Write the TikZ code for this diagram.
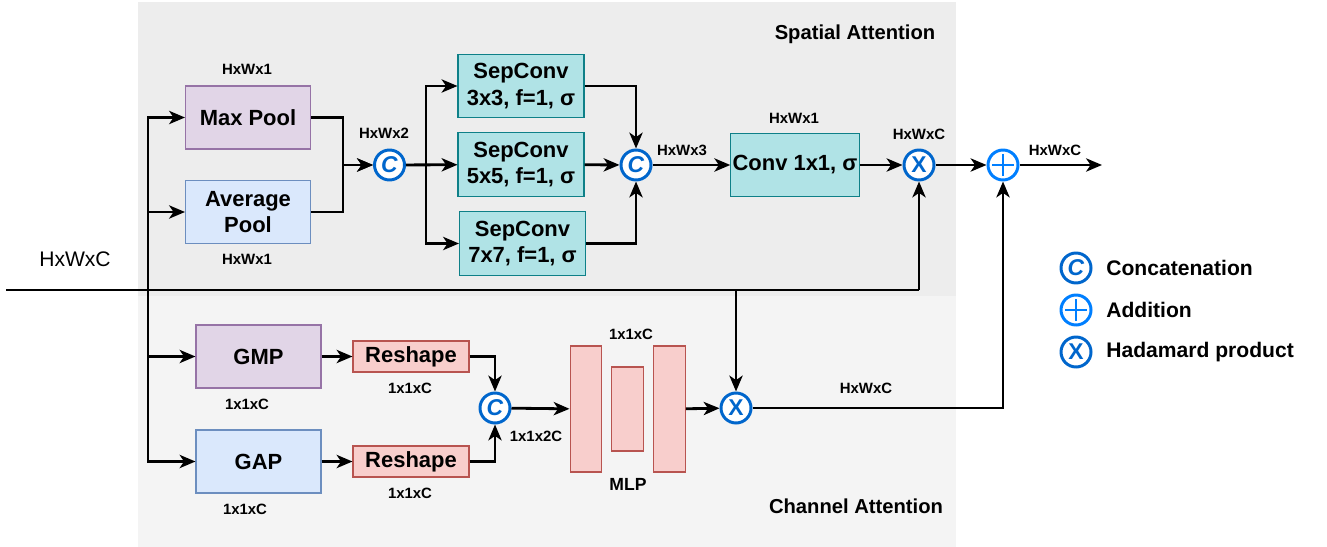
\documentclass[tikz,border=0pt]{standalone}
\usepackage{fontspec}
\setmainfont{Liberation Sans}
\usetikzlibrary{arrows.meta,positioning}
\definecolor{maxFill}{HTML}{E1D5E7}
\definecolor{maxLine}{HTML}{9673A6}
\definecolor{avgFill}{HTML}{DAE8FC}
\definecolor{avgLine}{HTML}{6C8EBF}
\definecolor{sepFill}{HTML}{B0E3E6}
\definecolor{sepLine}{HTML}{0E8088}
\definecolor{resFill}{HTML}{F8CECC}
\definecolor{resLine}{HTML}{B85450}
\definecolor{opBlue}{HTML}{0066CC}
\definecolor{addBlue}{HTML}{007FFF}
\definecolor{spatialBg}{HTML}{EDEDED}
\definecolor{channelBg}{HTML}{F4F4F4}

\begin{document}
\begin{tikzpicture}[x=0.02cm,y=-0.02cm,
    >={Stealth[length=9pt,width=7.5pt,inset=2.5pt]},
    flow/.style={->,line width=1.6pt},
    blk/.style={draw,line width=0.6pt,align=center,inner sep=1pt,
      font=\bfseries\fontsize{12.5}{15}\selectfont},
    pool/.style={blk,minimum width=2.5cm,minimum height=1.26cm},
    sepbox/.style={blk,draw=sepLine,fill=sepFill,minimum width=2.52cm,
      minimum height=1.27cm},
    reshape/.style={blk,draw=resLine,fill=resFill,minimum width=2.32cm,
      minimum height=0.62cm},
    mlpbar/.style={draw=resLine,fill=resFill,line width=0.6pt,
      minimum width=0.63cm,inner sep=0pt},
    op/.style={circle,draw=opBlue,fill=white,line width=1.7pt,
      minimum size=0.6cm,inner sep=0pt,text=opBlue,
      font=\bfseries\fontsize{13}{13}\selectfont},
    addop/.style={op,draw=addBlue,path picture={
      \draw[addBlue,line width=1.5pt]
        (path picture bounding box.center) +(-11,0) -- +(11,0)
        (path picture bounding box.center) +(0,-11) -- +(0,11);}},
    dim/.style={inner sep=0pt,font=\bfseries\fontsize{8.5}{10}\selectfont},
    areatitle/.style={inner sep=0pt,font=\bfseries\fontsize{11.5}{13}\selectfont},
    legendtext/.style={inner sep=0pt,anchor=west,
      font=\bfseries\fontsize{12}{14}\selectfont}]

  \useasboundingbox (0,0) rectangle (1327,547);
  % attention branches
  \fill[spatialBg] (138,2) rectangle (956,296);
  \fill[channelBg] (138,296) rectangle (956,547);
  \node[areatitle] (satitle) at (855,34) {Spatial Attention};
  \node[areatitle] (catitle) at (856,506) {Channel Attention};

  % spatial branch
  \node[pool,draw=maxLine,fill=maxFill] (mp) at (248,117.5) {Max Pool};
  \node[pool,draw=avgLine,fill=avgFill] (ap) at (248,212) {Average\\Pool};
  \node[op] (cat1) at (389.5,165) {\textit{C}};
  \node[sepbox] (sc3) at (521,86) {SepConv\\3x3, f=1, σ};
  \node[sepbox] (sc5) at (521,164.5) {SepConv\\5x5, f=1, σ};
  \node[sepbox] (sc7) at (522.5,243.5) {SepConv\\7x7, f=1, σ};
  \node[op] (cat2) at (636,165) {\textit{C}};
  \node[sepbox] (conv) at (795,165) {Conv 1x1, σ};
  \node[op] (had1) at (919,165) {X};
  \node[addop] (add) at (1003,165) {};
  \coordinate (out) at (1102,165);

  % channel branch
  \node[pool,draw=maxLine,fill=maxFill] (gmp) at (258.5,356.5) {GMP};
  \node[pool,draw=avgLine,fill=avgFill] (gap) at (258.5,461.5) {GAP};
  \node[reshape] (rs1) at (411,356.5) {Reshape};
  \node[reshape] (rs2) at (411,461.5) {Reshape};
  \node[op] (cat3) at (495,408) {\textit{C}};
  \node[mlpbar,minimum height=2.52cm] (mlp1) at (585.8,409) {};
  \node[mlpbar,minimum height=1.68cm] (mlp2) at (627.3,409) {};
  \node[mlpbar,minimum height=2.52cm] (mlp3) at (669.5,409) {};
  \node[op] (had2) at (736,408) {X};

  % input feature map
  \coordinate (in) at (6,290);
  \coordinate (split) at (148,290);
  \coordinate (tap) at (736,290);
  \coordinate (turn) at (919,290);

  \draw[flow,-] (in) -- (turn);
  \draw[flow] (turn) -- (had1);
  \draw[flow] (split) |- (mp);
  \draw[flow] (split) |- (ap);
  \draw[flow] (split) |- (gmp);
  \draw[flow] (split) |- (gap);
  \draw[flow] (tap) -- (had2);

  \draw[flow] (mp.east) -- ++(32,0) |- (cat1);
  \draw[flow] (ap.east) -- ++(32,0) |- (cat1);
  \draw[flow] (cat1.east) -- ++(20,0) |- (sc3);
  \draw[flow] (cat1) -- (sc5);
  \draw[flow] (cat1.east) -- ++(20,0) |- (sc7);
  \draw[flow] (sc3) -| (cat2);
  \draw[flow] (sc5) -- (cat2);
  \draw[flow] (sc7) -| (cat2);
  \draw[flow] (cat2) -- (conv);
  \draw[flow] (conv) -- (had1);
  \draw[flow] (had1) -- (add);
  \draw[flow] (add) -- (out);

  \draw[flow] (gmp) -- (rs1);
  \draw[flow] (gap) -- (rs2);
  \draw[flow] (rs1) -| (cat3);
  \draw[flow] (rs2) -| (cat3);
  \draw[flow] (cat3) -- (mlp1);
  \draw[flow] (mlp3) -- (had2);
  \draw[flow] (had2) -| (add);

  % tensor shapes
  \node[dim,font=\fontsize{12}{14}\selectfont] (inshape) at (75,259) {HxWxC};
  \node[dim] (mpshape) at (247,69) {HxWx1};
  \node[dim] (apshape) at (247,259) {HxWx1};
  \node[dim] (cat1shape) at (384,133) {HxWx2};
  \node[dim] (cat2shape) at (682,150) {HxWx3};
  \node[dim] (convshape) at (794,118) {HxWx1};
  \node[dim] (had1shape) at (919,134) {HxWxC};
  \node[dim] (outshape) at (1055,150) {HxWxC};
  \node[dim] (gmpshape) at (247,404) {1x1xC};
  \node[dim] (gapshape) at (245,509) {1x1xC};
  \node[dim] (rs1shape) at (410,388) {1x1xC};
  \node[dim] (rs2shape) at (410,493) {1x1xC};
  \node[dim] (cat3shape) at (536,436) {1x1x2C};
  \node[dim] (mlpshape) at (631,334) {1x1xC};
  \node[dim,font=\bfseries\fontsize{10}{12}\selectfont] (mlpname) at (628,484) {MLP};
  \node[dim] (had2shape) at (866,388) {HxWxC};

  % legend
  \node[op] (lgcat) at (1076,268) {\textit{C}};
  \node[addop] (lgadd) at (1076,310) {};
  \node[op] (lghad) at (1076,352) {X};
  \node[legendtext,right=0.27cm of lgcat] (lgcattext) {Concatenation};
  \node[legendtext,right=0.27cm of lgadd] (lgaddtext) {Addition};
  \node[legendtext,right=0.27cm of lghad] (lghadtext) {Hadamard product};
\end{tikzpicture}
\end{document}
